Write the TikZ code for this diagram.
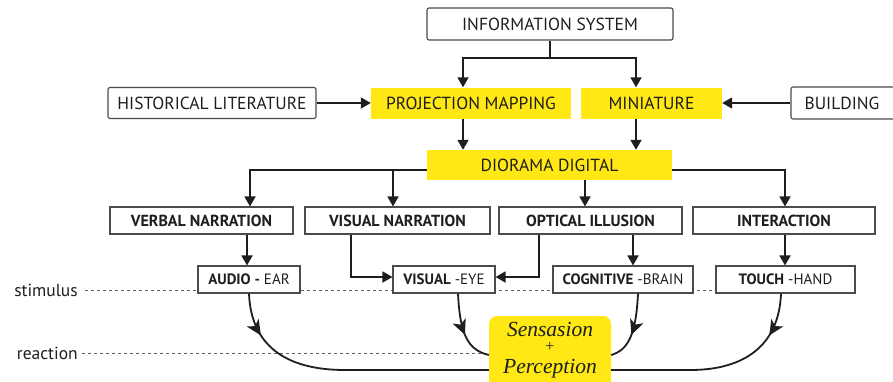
\documentclass[tikz,border=0pt]{standalone}
\usepackage{fontspec}
\setmainfont{PT Sans}
\newfontfamily\serifit{Liberation Serif}
\usetikzlibrary{arrows.meta,decorations.markings,calc}
\definecolor{ylw}{RGB}{255,232,20}
\definecolor{ink}{RGB}{30,30,30}
\begin{document}
\begin{tikzpicture}[x=1pt,y=-1pt,
  box/.style={draw=ink!80, line width=1.1pt, fill=white, inner sep=0pt, text=ink,
    font=\fontsize{17.5}{17.5}\selectfont},
  rbox/.style={box, rounded corners=2pt},
  ybox/.style={fill=ylw, inner sep=0pt, text=ink, font=\fontsize{17.5}{17.5}\selectfont},
  nbox/.style={box, font=\bfseries\fontsize{16}{16}\selectfont},
  sbox/.style={box, font=\fontsize{15}{15}\selectfont},
  arr/.style={draw=ink, line width=1.8pt, -{Triangle[width=11pt,length=10pt]}},
  ln/.style={draw=ink, line width=1.8pt},
  curv/.style={draw=ink, line width=1.8pt, postaction={decorate},
    decoration={markings, mark=at position #1 with {\arrow{Stealth[width=14pt,length=15pt,inset=4pt]}}}},
  guide/.style={draw=ink!70, line width=0.7pt, dash pattern=on 3pt off 3pt},
  lab/.style={text=ink, font=\fontsize{17.5}{17.5}\selectfont, inner sep=0pt},
  sp/.style={text=ink, inner sep=0pt, font=\serifit\itshape\fontsize{21.5}{21.5}\selectfont}
]
\useasboundingbox (0,0) rectangle (893,381);

% dashed guide lines
\coordinate (s0) at (85,290);
\coordinate (s1) at (716,290);
\coordinate (r0) at (82,353);
\coordinate (r1) at (489,353);
\draw[guide] (s0) -- (s1);
\draw[guide] (r0) -- (r1);
\node[lab, anchor=east] (stim) at (78,290) {stimulus};
\node[lab, anchor=east] (react) at (78,353) {reaction};

% top level
\node[rbox, minimum width=246pt, minimum height=32pt] (info) at (550,24) {INFORMATION SYSTEM};
\node[rbox, minimum width=208pt, minimum height=31pt] (hist) at (212,103) {HISTORICAL LITERATURE};
\node[ybox, minimum width=200pt, minimum height=31pt] (pm) at (471,103) {PROJECTION MAPPING};
\node[ybox, minimum width=141pt, minimum height=31pt] (mini) at (651.5,103) {MINIATURE};
\node[rbox, minimum width=118pt, minimum height=32pt] (bld) at (850,103) {\hspace*{-16pt}BUILDING};
\node[ybox, minimum width=245pt, minimum height=30pt] (dio) at (549.5,165) {DIORAMA DIGITAL};

% second row
\node[nbox, minimum width=183pt, minimum height=27pt] (verb) at (201.5,220.5) {VERBAL NARRATION};
\node[nbox, minimum width=185pt, minimum height=27pt] (visn) at (397.5,220.5) {VISUAL NARRATION};
\node[nbox, minimum width=183pt, minimum height=27pt] (opt) at (590.5,220.5) {OPTICAL ILLUSION};
\node[nbox, minimum width=182pt, minimum height=27pt] (inter) at (784,220.5) {INTERACTION};

% third row
\node[sbox, minimum width=102pt, minimum height=27pt] (audio) at (249,279.5) {\textbf{AUDIO -} EAR};
\node[sbox, minimum width=102pt, minimum height=27pt] (eye) at (444,279.5) {\textbf{VISUAL} -EYE};
\node[sbox, minimum width=140pt, minimum height=27pt] (cog) at (623,279.5) {\textbf{COGNITIVE} -BRAIN};
\node[sbox, minimum width=139pt, minimum height=27pt] (touch) at (785.5,279.5) {\textbf{TOUCH} -HAND};

% sensation + perception
\node[fill=ylw, rounded corners=8pt, minimum width=122pt, minimum height=72pt, inner sep=0pt] (sens) at (550,352) {};
\node[sp, anchor=base] (sp1) at (550,336) {Sensasion};
\node[sp, font=\serifit\fontsize{16}{16}\selectfont] (sp2) at (550,347) {+};
\node[sp, anchor=base] (sp3) at (550,373) {Perception};

% connectors top
\coordinate (j1) at (550,58);
\draw[ln] (info.south) -- (j1);
\draw[arr] (j1) -| ([xshift=-8pt]pm.north);
\draw[arr] (j1) -| ([xshift=-15.5pt]mini.north);
\draw[arr] (hist.east) -- (pm.west);
\draw[arr] (bld.west) -- (mini.east);
\draw[arr] ([xshift=-8pt]pm.south) -- ([xshift=-8pt]pm.south |- dio.north);
\draw[arr] ([xshift=-15.5pt]mini.south) -- ([xshift=-15.5pt]mini.south |- dio.north);

% diorama branches
\coordinate (dl) at (393,170);
\draw[arr] ([yshift=-5pt]dio.west) -| ([xshift=48.5pt]verb.north);
\draw[arr] (dl) -- (dl |- visn.north);
\draw[arr] ([xshift=35.5pt]dio.south) -- ([xshift=35.5pt]dio.south |- opt.north);
\draw[arr] ([yshift=-5pt]dio.east) -| ([xshift=1pt]inter.north);

% second to third row
\draw[arr] ([xshift=45.5pt]verb.south) -- ([xshift=45.5pt]verb.south |- audio.north);
\coordinate (ve) at (351,277);
\draw[arr] ([xshift=-46.5pt]visn.south) |- (ve -| eye.west);
\draw[arr] ([xshift=-51.5pt]opt.south) |- (ve -| eye.east);
\draw[arr] ([xshift=42.5pt]opt.south) -- ([xshift=42.5pt]opt.south |- cog.north);
\draw[arr] ([xshift=1pt]inter.south) -- ([xshift=1pt]inter.south |- touch.north);

% curves to sensation
\coordinate (c1) at (345,370);
\coordinate (c4) at (690,370);
\draw[curv=44pt] (audio.south) .. controls (251,345) and (285,370) .. (c1) -- (c1 -| sens.west);
\draw[curv=42pt] ([xshift=14pt]eye.south) .. controls (460,335) and (468,350) .. (sens.west |- 0,355);
\draw[curv=42pt] ([xshift=15pt]cog.south) .. controls (636,335) and (628,350) .. (sens.east |- 0,355);
\draw[curv=44pt] ([xshift=-4.5pt]touch.south) .. controls (779,345) and (745,370) .. (c4) -- (c4 -| sens.east);
\end{tikzpicture}
\end{document}
